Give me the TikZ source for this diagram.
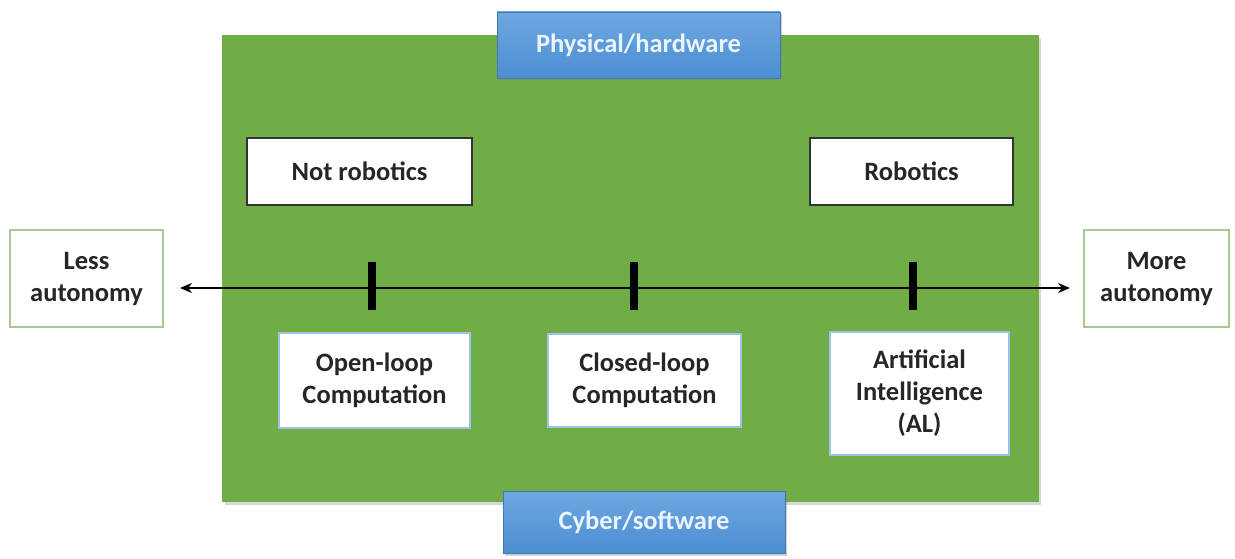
\documentclass[tikz,border=0pt]{standalone}
\usepackage{fontspec}
\setmainfont{Carlito}
\usetikzlibrary{arrows.meta,shadows}
\definecolor{bggreen}{HTML}{70AD47}
\definecolor{bluetop}{HTML}{6EA8E0}
\definecolor{bluebot}{HTML}{4C8DD2}
\definecolor{lessborder}{HTML}{A9C98F}
\definecolor{aiborder}{HTML}{9DC3E6}
\definecolor{bluetext}{HTML}{EAF4FF}
\tikzset{
  x=1pt, y=-1pt,
  lbl/.style={font=\bfseries\fontsize{26.5}{32}\selectfont, align=center, text=black!85},
  whitebox/.style={lbl, fill=white, inner sep=0pt},
  bluebox/.style={font=\bfseries\fontsize{26.5}{32}\selectfont, text=bluetext, inner sep=0pt,
     top color=bluetop, bottom color=bluebot, draw=bluebot!85!black, line width=0.4pt,
     drop shadow={shadow xshift=1.5pt, shadow yshift=-2.5pt, opacity=0.35}},
  tick/.style={line width=8pt},
  axis/.style={line width=2.5pt, {Stealth[length=12pt,width=10pt]}-{Stealth[length=12pt,width=10pt]}}
}
\begin{document}
\begin{tikzpicture}
\useasboundingbox (0,0) rectangle (1235,559);
\fill[white] (0,0) rectangle (1235,559);
% green panel
\fill[black!30, opacity=0.5] (225,38) rectangle (1041,505);
\fill[bggreen] (222,35) rectangle (1039,502);
% blue labels
\node[bluebox, minimum width=283pt, minimum height=66pt] (phys) at (638.5,45) {Physical/hardware};
\node[bluebox, minimum width=282pt, minimum height=62pt] (cyber) at (644,522) {Cyber/software};
% top boxes
\node[whitebox, draw=black!80, line width=1.2pt, minimum width=225pt, minimum height=67pt] (notrob) at (359.5,171.5) {Not robotics};
\node[whitebox, draw=black!80, line width=1.2pt, minimum width=203pt, minimum height=67pt] (rob) at (911.5,171.5) {Robotics};
% side boxes
\node[whitebox, draw=lessborder, line width=1.5pt, minimum width=153pt, minimum height=97pt] (less) at (86.5,278.5) {Less\\autonomy};
\node[whitebox, draw=lessborder, line width=1.5pt, minimum width=145pt, minimum height=97pt] (more) at (1156.5,278.5) {More\\autonomy};
% axis
\coordinate (aL) at (180,288);
\coordinate (aR) at (1070,288);
\draw[axis] (aL) -- (aR);
\coordinate (t1) at (372,286);
\coordinate (t2) at (634,286);
\coordinate (t3) at (913,286);
\draw[tick] ([yshift=-24pt]t1) -- ([yshift=24pt]t1);
\draw[tick] ([yshift=-24pt]t2) -- ([yshift=24pt]t2);
\draw[tick] ([yshift=-24pt]t3) -- ([yshift=24pt]t3);
% bottom boxes
\node[whitebox, draw=aiborder, line width=1.5pt, minimum width=191pt, minimum height=95pt] (open) at (374.5,380.5) {Open-loop\\Computation};
\node[whitebox, draw=aiborder, line width=1.5pt, minimum width=193pt, minimum height=93pt] (closed) at (644.5,380.5) {Closed-loop\\Computation};
\node[whitebox, draw=aiborder, line width=1.5pt, minimum width=179pt, minimum height=123pt] (ai) at (919.5,393.5) {Artificial\\Intelligence\\(AL)};
\end{tikzpicture}
\end{document}
